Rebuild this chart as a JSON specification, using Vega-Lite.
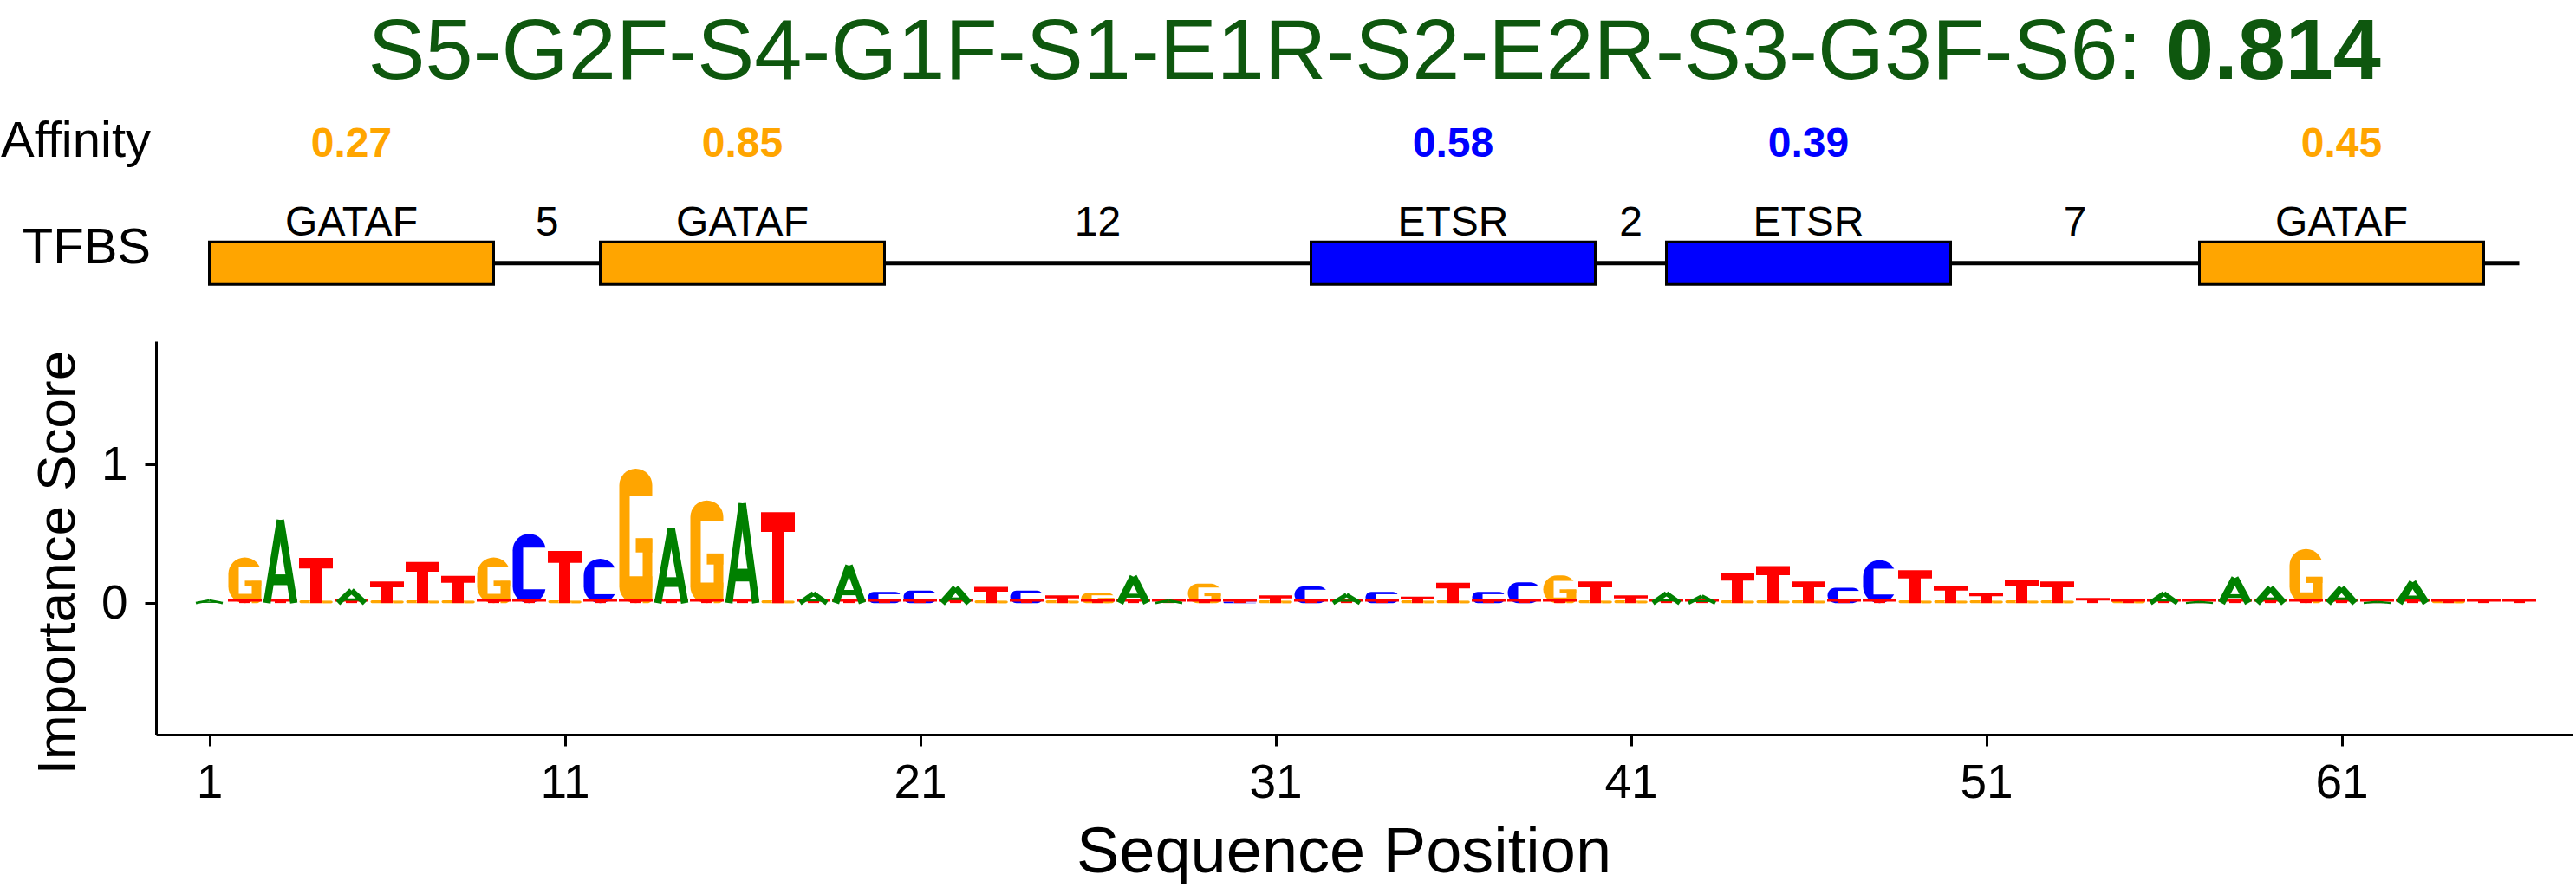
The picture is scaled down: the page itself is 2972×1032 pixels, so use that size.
{
  "$schema": "https://vega.github.io/schema/vega-lite/v6.json",
  "padding": 0,
  "background": "white",
  "spacing": 51,
  "resolve": {"scale": {"color": "independent", "x": "independent", "y": "independent"}},
  "config": {
    "font": "Liberation Sans",
    "view": {"stroke": null},
    "axis": {"grid": false, "labelFont": "Liberation Sans", "titleFont": "Liberation Sans", "labelColor": "black", "titleColor": "black", "domainColor": "black", "tickColor": "black", "titleFontWeight": "normal", "labelFontWeight": "normal"},
    "text": {"font": "Liberation Sans"}
  },
  "datasets": {
    "design": [{"heading": "S5-G2F-S4-G1F-S1-E1R-S2-E2R-S3-G3F-S6:", "score": 0.814}],
    "elements": [
      {"kind": "motif", "label": "GATAF", "start": 1, "end": 9, "affinity": 0.27},
      {"kind": "spacer", "label": "5", "start": 9, "end": 12},
      {"kind": "motif", "label": "GATAF", "start": 12, "end": 20, "affinity": 0.85},
      {"kind": "spacer", "label": "12", "start": 20, "end": 32},
      {"kind": "motif", "label": "ETSR", "start": 32, "end": 40, "affinity": 0.58},
      {"kind": "spacer", "label": "2", "start": 40, "end": 42},
      {"kind": "motif", "label": "ETSR", "start": 42, "end": 50, "affinity": 0.39},
      {"kind": "spacer", "label": "7", "start": 50, "end": 57},
      {"kind": "motif", "label": "GATAF", "start": 57, "end": 65, "affinity": 0.45},
      {"kind": "spacer", "label": "", "start": 65, "end": 66}
    ],
    "letters": [
      {"pos": 1, "base": "A", "score": 0.02},
      {"pos": 2, "base": "G", "score": 0.33}, {"pos": 2, "base": "T", "score": 0.02},
      {"pos": 3, "base": "A", "score": 0.6}, {"pos": 3, "base": "T", "score": 0.02},
      {"pos": 4, "base": "T", "score": 0.32}, {"pos": 4, "base": "G", "score": 0.02},
      {"pos": 5, "base": "A", "score": 0.09}, {"pos": 5, "base": "T", "score": 0.02},
      {"pos": 6, "base": "T", "score": 0.15}, {"pos": 6, "base": "G", "score": 0.02},
      {"pos": 7, "base": "T", "score": 0.29}, {"pos": 7, "base": "G", "score": 0.02},
      {"pos": 8, "base": "T", "score": 0.19}, {"pos": 8, "base": "G", "score": 0.02},
      {"pos": 9, "base": "G", "score": 0.33}, {"pos": 9, "base": "T", "score": 0.02},
      {"pos": 10, "base": "C", "score": 0.5}, {"pos": 10, "base": "T", "score": 0.02},
      {"pos": 11, "base": "T", "score": 0.37}, {"pos": 11, "base": "G", "score": 0.02},
      {"pos": 12, "base": "C", "score": 0.32}, {"pos": 12, "base": "T", "score": 0.02},
      {"pos": 13, "base": "G", "score": 0.97}, {"pos": 13, "base": "T", "score": 0.02},
      {"pos": 14, "base": "A", "score": 0.54}, {"pos": 14, "base": "T", "score": 0.02},
      {"pos": 15, "base": "G", "score": 0.74}, {"pos": 15, "base": "T", "score": 0.02},
      {"pos": 16, "base": "A", "score": 0.72}, {"pos": 16, "base": "T", "score": 0.02},
      {"pos": 17, "base": "T", "score": 0.65}, {"pos": 17, "base": "G", "score": 0.02},
      {"pos": 18, "base": "A", "score": 0.07}, {"pos": 18, "base": "T", "score": 0.02},
      {"pos": 19, "base": "A", "score": 0.27}, {"pos": 19, "base": "T", "score": 0.02},
      {"pos": 20, "base": "C", "score": 0.08}, {"pos": 20, "base": "T", "score": 0.02},
      {"pos": 21, "base": "C", "score": 0.09}, {"pos": 21, "base": "T", "score": 0.02},
      {"pos": 22, "base": "A", "score": 0.11}, {"pos": 22, "base": "T", "score": 0.02},
      {"pos": 23, "base": "T", "score": 0.11}, {"pos": 23, "base": "G", "score": 0.02},
      {"pos": 24, "base": "C", "score": 0.09}, {"pos": 24, "base": "T", "score": 0.02},
      {"pos": 25, "base": "T", "score": 0.05}, {"pos": 25, "base": "G", "score": 0.02},
      {"pos": 26, "base": "G", "score": 0.07}, {"pos": 26, "base": "T", "score": 0.02},
      {"pos": 27, "base": "A", "score": 0.19}, {"pos": 27, "base": "T", "score": 0.02},
      {"pos": 28, "base": "A", "score": 0.02}, {"pos": 28, "base": "T", "score": 0.02},
      {"pos": 29, "base": "G", "score": 0.14}, {"pos": 29, "base": "T", "score": 0.02},
      {"pos": 30, "base": "C", "score": 0.01}, {"pos": 30, "base": "T", "score": 0.02},
      {"pos": 31, "base": "T", "score": 0.05}, {"pos": 31, "base": "G", "score": 0.02},
      {"pos": 32, "base": "C", "score": 0.12}, {"pos": 32, "base": "T", "score": 0.02},
      {"pos": 33, "base": "A", "score": 0.06}, {"pos": 33, "base": "T", "score": 0.02},
      {"pos": 34, "base": "C", "score": 0.08}, {"pos": 34, "base": "T", "score": 0.02},
      {"pos": 35, "base": "T", "score": 0.04}, {"pos": 35, "base": "G", "score": 0.02},
      {"pos": 36, "base": "T", "score": 0.14}, {"pos": 36, "base": "G", "score": 0.02},
      {"pos": 37, "base": "C", "score": 0.08}, {"pos": 37, "base": "T", "score": 0.02},
      {"pos": 38, "base": "C", "score": 0.15}, {"pos": 38, "base": "T", "score": 0.02},
      {"pos": 39, "base": "G", "score": 0.2}, {"pos": 39, "base": "T", "score": 0.02},
      {"pos": 40, "base": "T", "score": 0.15}, {"pos": 40, "base": "G", "score": 0.02},
      {"pos": 41, "base": "T", "score": 0.05}, {"pos": 41, "base": "G", "score": 0.02},
      {"pos": 42, "base": "A", "score": 0.07}, {"pos": 42, "base": "T", "score": 0.02},
      {"pos": 43, "base": "A", "score": 0.05}, {"pos": 43, "base": "T", "score": 0.02},
      {"pos": 44, "base": "T", "score": 0.21}, {"pos": 44, "base": "G", "score": 0.02},
      {"pos": 45, "base": "T", "score": 0.26}, {"pos": 45, "base": "G", "score": 0.02},
      {"pos": 46, "base": "T", "score": 0.15}, {"pos": 46, "base": "G", "score": 0.02},
      {"pos": 47, "base": "C", "score": 0.11}, {"pos": 47, "base": "T", "score": 0.02},
      {"pos": 48, "base": "C", "score": 0.31}, {"pos": 48, "base": "T", "score": 0.02},
      {"pos": 49, "base": "T", "score": 0.23}, {"pos": 49, "base": "G", "score": 0.02},
      {"pos": 50, "base": "T", "score": 0.12}, {"pos": 50, "base": "G", "score": 0.02},
      {"pos": 51, "base": "T", "score": 0.07}, {"pos": 51, "base": "G", "score": 0.02},
      {"pos": 52, "base": "T", "score": 0.16}, {"pos": 52, "base": "G", "score": 0.02},
      {"pos": 53, "base": "T", "score": 0.15}, {"pos": 53, "base": "G", "score": 0.02},
      {"pos": 54, "base": "T", "score": 0.03},
      {"pos": 55, "base": "G", "score": 0.03}, {"pos": 55, "base": "T", "score": 0.02},
      {"pos": 56, "base": "A", "score": 0.07}, {"pos": 56, "base": "T", "score": 0.02},
      {"pos": 57, "base": "A", "score": 0.01}, {"pos": 57, "base": "T", "score": 0.02},
      {"pos": 58, "base": "A", "score": 0.18}, {"pos": 58, "base": "T", "score": 0.02},
      {"pos": 59, "base": "A", "score": 0.11}, {"pos": 59, "base": "T", "score": 0.02},
      {"pos": 60, "base": "G", "score": 0.39}, {"pos": 60, "base": "T", "score": 0.02},
      {"pos": 61, "base": "A", "score": 0.11}, {"pos": 61, "base": "T", "score": 0.02},
      {"pos": 62, "base": "A", "score": 0.01}, {"pos": 62, "base": "T", "score": 0.02},
      {"pos": 63, "base": "A", "score": 0.15}, {"pos": 63, "base": "T", "score": 0.02},
      {"pos": 64, "base": "G", "score": 0.03}, {"pos": 64, "base": "T", "score": 0.02},
      {"pos": 65, "base": "T", "score": 0.02},
      {"pos": 66, "base": "T", "score": 0.02}
    ]
  },
  "vconcat": [
    {
      "width": 2788,
      "height": 343,
      "data": {"name": "elements"},
      "layer": [
        {
          "mark": {"type": "rule", "strokeWidth": 5, "color": "black"},
          "encoding": {
            "x": {"aggregate": "min", "field": "start", "type": "quantitative", "scale": {"domain": [-0.5, 67.5], "nice": false, "zero": false}, "axis": null},
            "x2": {"aggregate": "max", "field": "end"},
            "y": {"datum": 0, "type": "quantitative", "scale": {"domain": [-1.6, 12.4], "nice": false, "zero": false}, "axis": null}
          }
        },
        {
          "transform": [{"filter": {"field": "kind", "equal": "motif"}}],
          "mark": {"type": "rect", "stroke": "black", "strokeWidth": 3},
          "encoding": {
            "x": {"field": "start", "type": "quantitative", "scale": {"domain": [-0.5, 67.5], "nice": false, "zero": false}, "axis": null},
            "x2": {"field": "end"},
            "y": {"datum": -1, "type": "quantitative", "scale": {"domain": [-1.6, 12.4], "nice": false, "zero": false}, "axis": null},
            "y2": {"datum": 1},
            "color": {"field": "label", "type": "nominal", "scale": {"domain": ["GATAF", "ETSR"], "range": ["#FFA500", "#0000FF"]}, "legend": null}
          }
        },
        {
          "transform": [
            {"fold": ["start", "end"], "as": ["edge", "coord"]},
            {"aggregate": [{"op": "mean", "field": "coord", "as": "center"}], "groupby": ["kind", "label", "start"]}
          ],
          "mark": {"type": "text", "fontSize": 48, "baseline": "alphabetic", "align": "center", "color": "black"},
          "encoding": {
            "x": {"field": "center", "type": "quantitative", "scale": {"domain": [-0.5, 67.5], "nice": false, "zero": false}, "axis": null},
            "y": {"datum": 1.3, "type": "quantitative", "scale": {"domain": [-1.6, 12.4], "nice": false, "zero": false}, "axis": null},
            "text": {"field": "label", "type": "nominal"}
          }
        },
        {
          "transform": [
            {"filter": {"field": "kind", "equal": "motif"}},
            {"fold": ["start", "end"], "as": ["edge", "coord"]},
            {"aggregate": [{"op": "mean", "field": "coord", "as": "center"}], "groupby": ["label", "start", "affinity"]}
          ],
          "mark": {"type": "text", "fontSize": 48, "fontWeight": "bold", "baseline": "alphabetic", "align": "center"},
          "encoding": {
            "x": {"field": "center", "type": "quantitative", "scale": {"domain": [-0.5, 67.5], "nice": false, "zero": false}, "axis": null},
            "y": {"datum": 5, "type": "quantitative", "scale": {"domain": [-1.6, 12.4], "nice": false, "zero": false}, "axis": null},
            "text": {"field": "affinity", "type": "quantitative", "format": ".2f"},
            "color": {"field": "label", "type": "nominal", "scale": {"domain": ["GATAF", "ETSR"], "range": ["#FFA500", "#0000FF"]}, "legend": null}
          }
        },
        {
          "data": {"name": "design"},
          "mark": {"type": "text", "fontSize": 58, "baseline": "alphabetic", "align": "right", "color": "black"},
          "encoding": {
            "x": {"datum": -0.646, "type": "quantitative", "scale": {"domain": [-0.5, 67.5], "nice": false, "zero": false}, "axis": null},
            "y": {"datum": 5, "type": "quantitative", "scale": {"domain": [-1.6, 12.4], "nice": false, "zero": false}, "axis": null},
            "text": {"value": "Affinity"}
          }
        },
        {
          "data": {"name": "design"},
          "mark": {"type": "text", "fontSize": 58, "baseline": "alphabetic", "align": "right", "color": "black"},
          "encoding": {
            "x": {"datum": -0.646, "type": "quantitative", "scale": {"domain": [-0.5, 67.5], "nice": false, "zero": false}, "axis": null},
            "y": {"datum": 0, "type": "quantitative", "scale": {"domain": [-1.6, 12.4], "nice": false, "zero": false}, "axis": null},
            "text": {"value": "TFBS"}
          }
        },
        {
          "data": {"name": "design"},
          "mark": {"type": "text", "fontSize": 99, "baseline": "alphabetic", "align": "right", "color": "#0e570e"},
          "encoding": {
            "x": {"datum": 55.38, "type": "quantitative", "scale": {"domain": [-0.5, 67.5], "nice": false, "zero": false}, "axis": null},
            "y": {"datum": 8.69, "type": "quantitative", "scale": {"domain": [-1.6, 12.4], "nice": false, "zero": false}, "axis": null},
            "text": {"field": "heading", "type": "nominal"}
          }
        },
        {
          "data": {"name": "design"},
          "mark": {"type": "text", "fontSize": 99, "fontWeight": "bold", "baseline": "alphabetic", "align": "left", "dx": 28, "color": "#0e570e"},
          "encoding": {
            "x": {"datum": 55.38, "type": "quantitative", "scale": {"domain": [-0.5, 67.5], "nice": false, "zero": false}, "axis": null},
            "y": {"datum": 8.69, "type": "quantitative", "scale": {"domain": [-1.6, 12.4], "nice": false, "zero": false}, "axis": null},
            "text": {"field": "score", "type": "quantitative", "format": ".3f"}
          }
        }
      ]
    },
    {
      "width": 2788,
      "height": 454,
      "data": {"name": "letters"},
      "encoding": {
        "x": {"field": "pos", "type": "quantitative", "scale": {"domain": [-0.5, 67.5], "nice": false, "zero": false},
          "axis": {"values": [1, 11, 21, 31, 41, 51, 61], "format": "d", "title": "Sequence Position", "titleFontSize": 74, "titleX": 1370, "titleY": 158, "titleBaseline": "alphabetic", "titleAlign": "center", "labelFontSize": 55, "labelPadding": 16, "tickSize": 13, "tickWidth": 3, "domainWidth": 3, "labelFlush": false}},
        "color": {"field": "base", "type": "nominal", "scale": {"domain": ["A", "C", "G", "T"], "range": ["#008000", "#0000FF", "#FFA500", "#FF0000"]}, "legend": null}
      },
      "layer": [
        {
          "transform": [{"filter": {"field": "base", "oneOf": ["C", "G"]}}],
          "mark": {"type": "rect", "xOffset": -19, "x2Offset": 19, "cornerRadius": 19},
          "encoding": {
            "x2": {"field": "pos"},
            "y": {"field": "score", "type": "quantitative", "scale": {"domain": [-0.95, 1.89], "nice": false, "zero": false},
              "axis": {"values": [0, 1], "format": "d", "title": "Importance Score", "titleFontSize": 62, "titleX": -95, "titleY": 255, "titleAngle": 270, "titleBaseline": "alphabetic", "titleAlign": "center", "labelFontSize": 55, "labelPadding": 20, "tickSize": 13, "tickWidth": 3, "domainWidth": 3, "minExtent": 180, "maxExtent": 180}},
            "y2": {"datum": 0}
          }
        },
        {
          "transform": [{"filter": {"field": "base", "oneOf": ["C", "G"]}}],
          "mark": {"type": "rule", "xOffset": -7, "x2Offset": 21, "strokeCap": "butt"},
          "encoding": {
            "x2": {"field": "pos"},
            "y": {"field": "score", "type": "quantitative", "scale": {"domain": [-1.9, 3.78], "nice": false, "zero": false}, "axis": null},
            "strokeWidth": {"field": "score", "type": "quantitative", "scale": {"domain": [0, 1], "range": [0, 96]}, "legend": null},
            "color": {"value": "white"}
          }
        },
        {
          "transform": [{"filter": {"field": "base", "equal": "G"}}],
          "mark": {"type": "rule", "xOffset": 0, "x2Offset": 19, "strokeCap": "butt"},
          "encoding": {
            "x2": {"field": "pos"},
            "y": {"field": "score", "type": "quantitative", "scale": {"domain": [-2.2093, 4.3953], "nice": false, "zero": false}, "axis": null},
            "strokeWidth": {"field": "score", "type": "quantitative", "scale": {"domain": [0, 1], "range": [1, 17]}, "legend": null}
          }
        },
        {
          "transform": [{"filter": {"field": "base", "equal": "G"}}],
          "mark": {"type": "rect", "xOffset": 8, "x2Offset": 19, "cornerRadiusBottomRight": 6},
          "encoding": {
            "x2": {"field": "pos"},
            "y": {"field": "score", "type": "quantitative", "scale": {"domain": [-1.9792, 3.9375], "nice": false, "zero": false}, "axis": null},
            "y2": {"datum": 0}
          }
        },
        {
          "transform": [{"filter": {"field": "base", "equal": "T"}}],
          "mark": {"type": "rect", "xOffset": -6.5, "x2Offset": 6.5},
          "encoding": {
            "x2": {"field": "pos"},
            "y": {"field": "score", "type": "quantitative", "scale": {"domain": [-0.95, 1.89], "nice": false, "zero": false}, "axis": null},
            "y2": {"datum": 0}
          }
        },
        {
          "transform": [{"filter": {"field": "base", "equal": "T"}}],
          "mark": {"type": "rule", "xOffset": -19.5, "x2Offset": 19.5, "strokeCap": "butt"},
          "encoding": {
            "x2": {"field": "pos"},
            "y": {"field": "score", "type": "quantitative", "scale": {"domain": [-1.0556, 2.1], "nice": false, "zero": false}, "axis": null},
            "strokeWidth": {"field": "score", "type": "quantitative", "scale": {"domain": [0, 1], "range": [2, 34]}, "legend": null}
          }
        },
        {
          "transform": [{"filter": {"field": "base", "equal": "A"}}],
          "mark": {"type": "rule", "xOffset": 0, "x2Offset": -15.5, "strokeCap": "butt"},
          "encoding": {
            "x2": {"field": "pos"},
            "y": {"field": "score", "type": "quantitative", "scale": {"domain": [-0.95, 1.89], "nice": false, "zero": false}, "axis": null},
            "y2": {"datum": 0},
            "strokeWidth": {"field": "score", "type": "quantitative", "scale": {"domain": [0, 0.12], "range": [1.5, 8.5], "clamp": true}, "legend": null}
          }
        },
        {
          "transform": [{"filter": {"field": "base", "equal": "A"}}],
          "mark": {"type": "rule", "xOffset": 0, "x2Offset": 15.5, "strokeCap": "butt"},
          "encoding": {
            "x2": {"field": "pos"},
            "y": {"field": "score", "type": "quantitative", "scale": {"domain": [-0.95, 1.89], "nice": false, "zero": false}, "axis": null},
            "y2": {"datum": 0},
            "strokeWidth": {"field": "score", "type": "quantitative", "scale": {"domain": [0, 0.12], "range": [1.5, 8.5], "clamp": true}, "legend": null}
          }
        },
        {
          "transform": [{"filter": {"field": "base", "equal": "A"}}],
          "mark": {"type": "rule", "xOffset": -10.5, "x2Offset": 10.5, "strokeCap": "butt"},
          "encoding": {
            "x2": {"field": "pos"},
            "y": {"field": "score", "type": "quantitative", "scale": {"domain": [-3.3929, 6.75], "nice": false, "zero": false}, "axis": null},
            "strokeWidth": {"field": "score", "type": "quantitative", "scale": {"domain": [0, 1], "range": [1, 20]}, "legend": null}
          }
        }
      ],
      "resolve": {"scale": {"y": "independent", "strokeWidth": "independent"}}
    }
  ]
}
